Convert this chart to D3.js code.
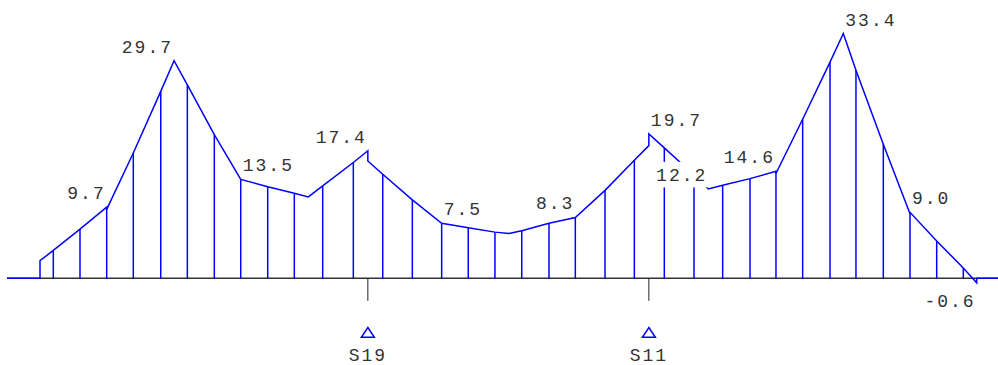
<!DOCTYPE html>
<html>
<head>
<meta charset="utf-8">
<script src="https://cdn.jsdelivr.net/npm/d3@7"></script>
<style>
  html, body { margin: 0; padding: 0; background: #fff; }
  svg { display: block; }
</style>
</head>
<body>
<svg id="chart" width="998" height="365"></svg>
<script>
// Bending moment envelope along a three-span girder (0–100 m)
// Station positions along the girder, m
const stationX = [0, 1.42, 4.27, 7.12, 9.96, 12.89, 14.31, 15.73, 18.61, 21.43, 24.31, 27.15, 28.64, 30.18, 33.45,
  35.0, 36.59, 39.75, 42.88, 45.72, 48.57, 50.07, 51.43, 54.34, 57.15, 60.32, 63.45,
  65.0, 66.65, 69.82, 71.35, 72.88, 75.80, 78.57, 81.42, 84.34, 85.76, 87.11, 90.03, 92.88, 95.73, 98.57, 100.0];
// Moment just left of each station
const momentLeft = [0, 3.8, 6.7, 9.7, 17.1, 25.5, 29.7, 26.4, 19.6, 13.5, 12.5, 11.6, 11.1, 12.6, 15.8,
  17.4, 14.2, 10.7, 7.5, 6.9, 6.3, 6.1, 6.5, 7.5, 8.3, 12.0, 16.1,
  18.1, 17.8, 14.1, 12.2, 12.7, 13.6, 14.6, 21.7, 29.5, 33.4, 28.4, 18.3, 8.8, 5.1, 1.4, -0.6];
// Moment just right of each station (differs where the diagram steps)
const momentRight = [2.4, 3.8, 6.7, 9.4, 17.1, 25.5, 29.7, 26.4, 19.6, 13.5, 12.5, 11.6, 11.1, 12.6, 15.8,
  16.0, 14.2, 10.7, 7.5, 6.9, 6.3, 6.1, 6.5, 7.5, 8.3, 12.0, 16.1,
  19.7, 17.8, 14.1, 12.2, 12.7, 13.6, 14.3, 21.7, 29.5, 33.4, 28.4, 18.3, 9.0, 5.1, 1.4, 0];
// 1 = hatch line drawn at the station
const hatched = [0, 1, 1, 1, 1, 1, 0, 1, 1, 1, 1, 1, 0, 1, 1,
  0, 1, 1, 1, 1, 1, 0, 1, 1, 1, 1, 1,
  0, 1, 1, 0, 1, 1, 1, 1, 1, 0, 1, 1, 1, 1, 1, 0];
// Stations whose extreme value is annotated
const labelStations = [7.12, 14.31, 21.43, 35.0, 42.88, 57.15, 65.0, 71.35, 78.57, 85.76, 92.88, 100.0];
// Supports
const supportX = [35.0, 65.0];
const supportNames = ["S19", "S11"];

const svg = d3.select("#chart");
const W = 998;
const blue = "#0000ff";
const grey = "#333333";
const font = "'Liberation Mono', 'DejaVu Sans Mono', monospace";

const x = d3.scaleLinear().domain([0, 100]).range([40, 976.7]);
const y = d3.scaleLinear().domain([0, 33.4]).range([278.3, 33.5]);
const y0 = y(0);

// Axis line
svg.append("line")
  .attr("x1", 7).attr("x2", W)
  .attr("y1", y0).attr("y2", y0)
  .attr("stroke", grey).attr("stroke-width", 1.5);

// Support ticks below the axis
svg.selectAll("line.sup").data(supportX).join("line")
  .attr("class", "sup")
  .attr("x1", d => x(d)).attr("x2", d => x(d))
  .attr("y1", y0).attr("y2", y0 + 22.5)
  .attr("stroke", "#222").attr("stroke-width", 1);

// Hatch lines
const stations = stationX.map((s, i) => ({ s, l: momentLeft[i], r: momentRight[i], h: hatched[i] }));
svg.selectAll("line.hatch").data(stations.filter(d => d.h)).join("line")
  .attr("class", "hatch")
  .attr("x1", d => x(d.s)).attr("x2", d => x(d.s))
  .attr("y1", y0)
  .attr("y2", d => y(Math.abs(d.l) >= Math.abs(d.r) ? d.l : d.r))
  .attr("stroke", blue).attr("stroke-width", 1.5);

// Diagram outline, with vertical steps at discontinuities
const pts = [[x.invert(7), 0]];
stations.forEach(d => {
  pts.push([d.s, d.l]);
  if (d.r !== d.l) pts.push([d.s, d.r]);
});
pts.push([x.invert(W), 0]);
svg.append("path")
  .attr("d", d3.line().x(p => x(p[0])).y(p => y(p[1]))(pts))
  .attr("fill", "none").attr("stroke", blue).attr("stroke-width", 1.5)
  .attr("stroke-linejoin", "miter");

// Value labels on a white ground
const anchors = ["end", "end", "start", "end", "start", "end", "start", "end", "end", "start", "start", "end"];
const labels = labelStations.map((s, i) => {
  const d = stations.find(t => t.s === s);
  const v = Math.abs(d.l) >= Math.abs(d.r) ? d.l : d.r;
  return { s, v, anchor: anchors[i] };
});
const lg = svg.append("g");
labels.forEach(d => {
  const px = x(d.s) + (d.anchor === "start" ? 2 : -1);
  const py = d.v >= 0 ? y(d.v) - 8 : y0 + 28.4;
  const g = lg.append("g");
  const bg = g.append("rect").attr("fill", "#fff");
  const t = g.append("text")
    .attr("x", px).attr("y", py)
    .attr("text-anchor", d.anchor)
    .attr("font-family", font).attr("font-size", 18)
    .attr("letter-spacing", 2)
    .attr("fill", grey)
    .text(d.v.toFixed(1));
  const b = t.node().getBBox();
  bg.attr("x", b.x - 1).attr("width", b.width + 2)
    .attr("y", py - 19).attr("height", 25.5);
});

// Support symbols and names
svg.selectAll("path.tri").data(supportX).join("path")
  .attr("class", "tri")
  .attr("d", d => `M${x(d)},${327.5} L${x(d) + 6.5},${337.3} L${x(d) - 6.5},${337.3} Z`)
  .attr("fill", "none").attr("stroke", blue).attr("stroke-width", 1.5);

svg.selectAll("text.sup").data(supportX).join("text")
  .attr("class", "sup")
  .attr("x", d => x(d)).attr("y", 360.5)
  .attr("text-anchor", "middle")
  .attr("font-family", font).attr("font-size", 18)
  .attr("letter-spacing", 2)
  .attr("fill", grey)
  .text((d, i) => supportNames[i]);
</script>
</body>
</html>
